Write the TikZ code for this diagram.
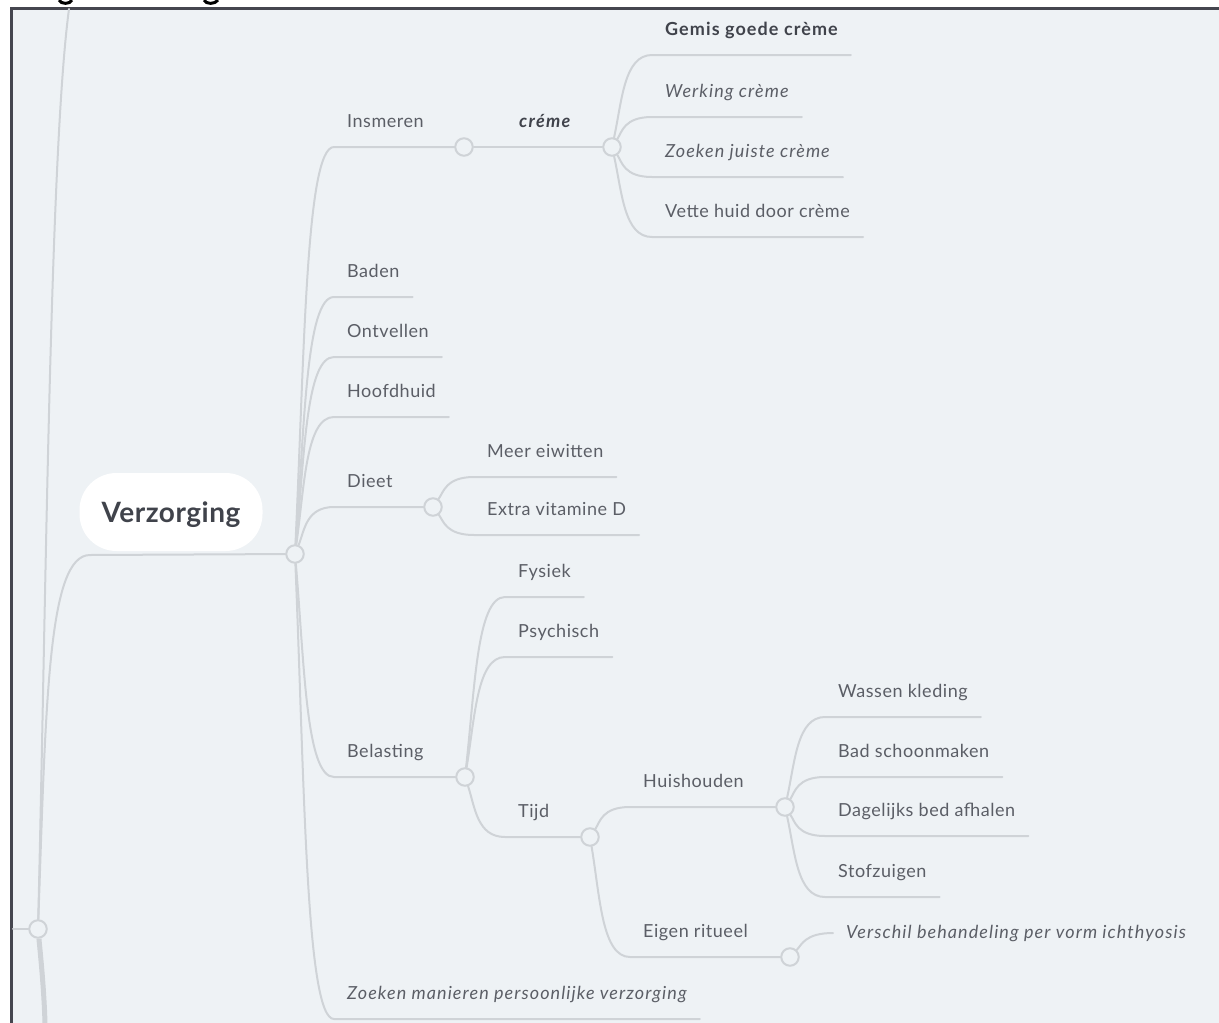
\documentclass[tikz,border=0pt]{standalone}
\usepackage{fontspec}
\setmainfont{Lato}[LetterSpace=3, ItalicFeatures={LetterSpace=6}, BoldFeatures={LetterSpace=6}, BoldItalicFeatures={LetterSpace=7}]
\newfontfamily\pillfont{Lato}[LetterSpace=1.8]
\usetikzlibrary{calc}
\definecolor{bgc}{HTML}{EEF2F5}
\definecolor{linec}{HTML}{CFD3D7}
\definecolor{txt}{HTML}{5B5E66}
\definecolor{txtd}{HTML}{40434B}
\definecolor{framec}{HTML}{45464F}
\pgfdeclarelayer{back}
\pgfdeclarelayer{bg}
\pgfsetlayers{back,bg,main}
\begin{document}
\begin{tikzpicture}[x=1pt,y=-1pt,
  link/.style={draw=linec, line width=2pt, line cap=round},
  branch/.style={to path={.. controls ($(\tikztostart)!0.5!(\tikztotarget)+(-10,0)$) and ($(\tikztotarget)+(-28,0)$) .. (\tikztotarget)}},
  topic/.style={anchor=south west, inner xsep=13pt, inner ysep=0pt, text depth=19pt, font=\fontsize{18}{21}\selectfont, text=txt},
  floattopic/.style={anchor=west, inner xsep=13pt, inner ysep=0pt, font=\fontsize{18}{21}\selectfont\itshape, text=txt},
  dot/.style={circle, draw=linec, line width=2pt, fill=bgc, minimum size=17.5pt, inner sep=0pt},
  pill/.style={fill=white, rounded corners=37pt, minimum width=183pt, minimum height=78pt, inner sep=0pt, text height=20pt, text depth=0pt, font=\fontsize{28}{32}\pillfont\bfseries, text=txtd},
]
\useasboundingbox (0,0) rectangle (1219,1023);
\begin{pgfonlayer}{back}
\fill[white] (0,0) rectangle (1219,1023);
\fill[bgc] (13,10) rectangle (1219,1023);
\draw[framec, line width=3.2pt] (11.5,1023) -- (11.5,8.3) -- (1219,8.3);
% cut-off title descenders
\draw[black, line width=3pt] (59,0) .. controls (61,4.5) and (70,4.5) .. (72,0);
\draw[black, line width=3pt] (204,0) .. controls (206,4.5) and (215,4.5) .. (218,0);
\end{pgfonlayer}

% coordinates for free ends
\coordinate (trunktop) at (69,9);
\coordinate (leftedge) at (13,929);
\coordinate (trunkbot) at (45,1023);
\coordinate (verzl) at (90,555);

% nodes
\node[dot] (R) at (38,929) {};
\node[dot] (C0) at (295,554) {};
\node[pill] (verz) at (171,512) {Verzorging};

\node[topic] (ins) at (334,147) {Insmeren};
\node[dot] (I1) at (464,147) {};
\node[topic, font=\fontsize{18}{21}\selectfont\bfseries\itshape, text=txtd] (cre) at (506,147) {créme};
\node[dot] (C2) at (612,147) {};
\node[topic, font=\fontsize{18}{21}\selectfont\bfseries, text=txtd] (gemis) at (652,55) {Gemis goede crème};
\node[topic, font=\fontsize{18}{21}\selectfont\itshape] (werk) at (652,117) {Werking crème};
\node[topic, font=\fontsize{18}{21}\selectfont\itshape] (zoekj) at (652,177) {Zoeken juiste crème};
\node[topic] (vette) at (652,237) {Vette huid door crème};

\node[topic] (baden) at (334,297) {Baden};
\node[topic] (ontv) at (334,357) {Ontvellen};
\node[topic] (hoofd) at (334,417) {Hoofdhuid};
\node[topic] (dieet) at (334,507) {Dieet};
\node[dot] (D1) at (433,507) {};
\node[topic] (meer) at (474,477) {Meer eiwitten};
\node[topic] (extra) at (474,535) {Extra vitamine D};

\node[topic] (belast) at (334,777) {Belasting};
\node[dot] (B1) at (465,777) {};
\node[topic] (fys) at (505,597) {Fysiek};
\node[topic] (psy) at (505,657) {Psychisch};
\node[topic] (tijd) at (505,837) {Tijd};
\node[dot] (T1) at (590,837) {};
\node[topic] (huis) at (630,807) {Huishouden};
\node[dot] (H1) at (785,807) {};
\node[topic] (eigen) at (630,957) {Eigen ritueel};
\node[dot] (E1) at (790,957) {};
\node[topic] (wassen) at (825,717) {Wassen kleding};
\node[topic] (bad) at (825,777) {Bad schoonmaken};
\node[topic] (dag) at (825,836) {Dagelijks bed afhalen};
\node[topic] (stof) at (825,897) {Stofzuigen};
\node[floattopic] (versch) at (833,933) {Verschil behandeling per vorm ichthyosis};
\node[topic, font=\fontsize{18}{21}\selectfont\itshape] (zoekm) at (334,1019) {Zoeken manieren persoonlijke verzorging};

% connectors
\begin{pgfonlayer}{bg}
\draw[link] (leftedge) -- (R);
\draw[link] (R) .. controls (46,600) and (50,150) .. (trunktop);
\draw[link, line width=5pt, line cap=butt] (R) .. controls (41,960) and (44,990) .. (trunkbot);
\draw[link] (R) .. controls (46,700) and (48,555) .. (verzl) -- (C0);

\draw[link] (C0) to[branch] (ins.south west) -- (I1);
\draw[link] (I1) -- (cre.south west) -- (C2);
\draw[link] (C2) to[branch] (gemis.south west) -- (gemis.south east);
\draw[link] (C2) to[branch] (werk.south west) -- (werk.south east);
\draw[link] (C2) to[branch] (zoekj.south west) -- (zoekj.south east);
\draw[link] (C2) to[branch] (vette.south west) -- (vette.south east);

\draw[link] (C0) to[branch] (baden.south west) -- (baden.south east);
\draw[link] (C0) to[branch] (ontv.south west) -- (ontv.south east);
\draw[link] (C0) to[branch] (hoofd.south west) -- (hoofd.south east);
\draw[link] (C0) to[branch] (dieet.south west) -- (D1);
\draw[link] (D1) to[branch] (meer.south west) -- (meer.south east);
\draw[link] (D1) to[branch] (extra.south west) -- (extra.south east);

\draw[link] (C0) to[branch] (belast.south west) -- (B1);
\draw[link] (B1) to[branch] (fys.south west) -- (fys.south east);
\draw[link] (B1) to[branch] (psy.south west) -- (psy.south east);
\draw[link] (B1) to[branch] (tijd.south west) -- (T1);
\draw[link] (T1) to[branch] (huis.south west) -- (H1);
\draw[link] (T1) to[branch] (eigen.south west) -- (E1);
\draw[link] (H1) to[branch] (wassen.south west) -- (wassen.south east);
\draw[link] (H1) to[branch] (bad.south west) -- (bad.south east);
\draw[link] (H1) to[branch] (dag.south west) -- (dag.south east);
\draw[link] (H1) to[branch] (stof.south west) -- (stof.south east);
\draw[link] (E1) to[branch] (versch.west);

\draw[link] (C0) to[branch] (zoekm.south west) -- (zoekm.south east);
\end{pgfonlayer}
\end{tikzpicture}
\end{document}
